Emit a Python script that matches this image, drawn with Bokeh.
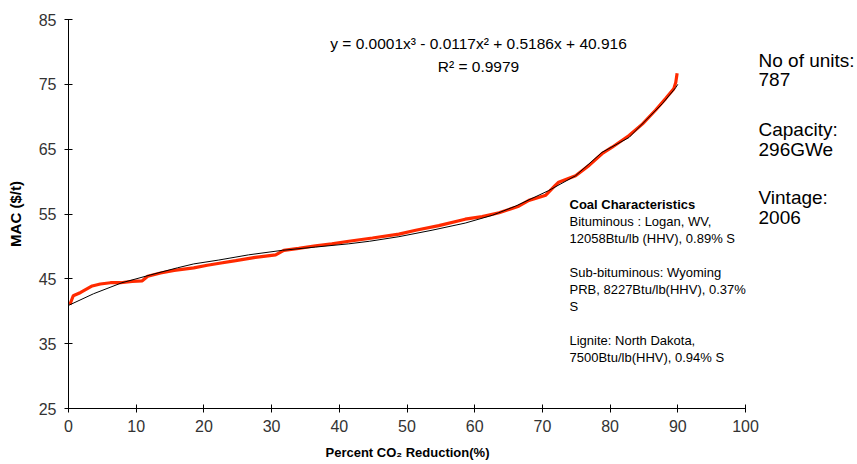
from bokeh.plotting import figure
from bokeh.models import Label, Range1d, FixedTicker, Title
from bokeh.embed import file_html
from bokeh.resources import INLINE

# Data
mac_x = [0.2, 0.7, 1.8, 3.5, 4.7, 6.2, 7.7, 9.4, 10.9, 11.7, 13.6, 15.6, 18.5, 20.5, 22.3,
         24.7, 27.6, 30.6, 31.8, 34.0, 36.5, 38.9, 41.4, 44.9, 48.8, 51.3, 54.7, 58.6,
         61.1, 63.6, 66.5, 68.0, 70.5, 71.9, 72.4, 74.9, 76.9, 78.8, 80.3, 82.8, 84.8,
         86.7, 88.2, 89.4, 89.7, 89.9]
mac_y = [41.0, 42.4, 42.9, 43.9, 44.2, 44.4, 44.4, 44.6, 44.7, 45.4, 45.9, 46.3, 46.7, 47.1, 47.4,
         47.8, 48.3, 48.7, 49.4, 49.7, 50.1, 50.4, 50.8, 51.3, 51.9, 52.5, 53.2, 54.2,
         54.6, 55.2, 56.2, 57.1, 57.9, 59.4, 59.9, 60.9, 62.5, 64.3, 65.3, 67.1, 68.9,
         71.0, 72.8, 74.3, 75.3, 76.7]

trend_x = [0.0, 3.7, 7.9, 12.1, 16.1, 18.5, 22.2, 26.6, 31.6, 36.5, 41.4, 44.5, 48.8, 53.7,
           58.6, 62.6, 66.0, 70.9, 74.9, 78.8, 82.8, 87.7, 89.7, 90.0]
trend_y = [40.9, 42.7, 44.4, 45.6, 46.7, 47.3, 47.9, 48.7, 49.4, 49.9, 50.4, 50.8, 51.5, 52.5,
           53.6, 54.8, 56.2, 58.6, 60.9, 64.5, 66.8, 72.0, 74.5, 75.0]

x_ticks = [0, 10, 20, 30, 40, 50, 60, 70, 80, 90, 100]
y_ticks = [25, 35, 45, 55, 65, 75, 85]

x_title = "Percent CO\u2082 Reduction(%)"
y_title = "MAC ($/t)"
equation_text = "y = 0.0001x\u00b3 - 0.0117x\u00b2 + 0.5186x + 40.916"
r2_text = "R\u00b2 = 0.9979"
side_lines = ["No of units:", "787", "Capacity:", "296GWe", "Vintage:", "2006"]
coal_title = "Coal Characteristics"
coal_lines = ["Bituminous :  Logan, WV,", "12058Btu/lb (HHV), 0.89% S", "",
              "Sub-bituminous: Wyoming", "PRB, 8227Btu/lb(HHV), 0.37%", "S", "",
              "Lignite: North Dakota,", "7500Btu/lb(HHV), 0.94% S"]

FONT = "Liberation Sans"
PX_PER_X = 6.77
X_END = 100 + 110 / PX_PER_X   # frame extends past 100 to hold the side notes

p = figure(frame_width=787, frame_height=389,
           x_range=Range1d(0, X_END), y_range=Range1d(25, 85),
           output_backend="svg", toolbar_location=None,
           min_border_left=68, min_border_right=2,
           min_border_top=19, min_border_bottom=50)
p.xgrid.visible = False
p.ygrid.visible = False
p.outline_line_color = None

for ax in (p.xaxis[0], p.yaxis[0]):
    ax.axis_line_color = "black"
    ax.major_tick_line_color = "black"
    ax.minor_tick_line_color = None
    ax.major_tick_in = 4
    ax.major_tick_out = 4
    ax.major_label_text_font = FONT
    ax.major_label_text_font_size = "16px"
    ax.major_label_text_color = "#333333"
    ax.axis_label_text_font = FONT
    ax.axis_label_text_font_style = "bold"
    ax.axis_label_text_color = "black"

p.xaxis.bounds = (0, 100)
p.xaxis.ticker = FixedTicker(ticks=x_ticks)
p.yaxis.ticker = FixedTicker(ticks=y_ticks)
p.xaxis.major_label_standoff = 7
p.yaxis.major_label_standoff = 8
p.yaxis.axis_label = y_title
p.yaxis.axis_label_text_font_size = "15px"
p.yaxis.axis_label_standoff = 12

# x-axis title centred under the 0..100 part of the axis
p.add_layout(Title(text=x_title, align="left", offset=257, standoff=16,
                   text_font=FONT, text_font_size="13px", text_font_style="bold",
                   text_color="black"), "below")

p.line(mac_x, mac_y, line_color="#ff2a00", line_width=3.2)
p.line(trend_x, trend_y, line_color="black", line_width=1)

# pixel helpers for placing text (reference frame: x=0 at 68px, y=25 at 408px)
def dx(px):
    return (px - 68) / PX_PER_X

def dy(py):
    return 25 + (408 - py) / 6.4833

p.add_layout(Label(x=dx(478), y=dy(43), text=equation_text, text_align="center",
                   text_baseline="middle", text_font=FONT, text_font_size="15.5px",
                   text_color="black"))
p.add_layout(Label(x=dx(478), y=dy(66), text=r2_text, text_align="center",
                   text_baseline="middle", text_font=FONT, text_font_size="15.5px",
                   text_color="black"))

side_y = [60, 79, 129, 149, 197, 217]
for t, yy in zip(side_lines, side_y):
    p.add_layout(Label(x=dx(758), y=dy(yy), text=t, text_align="left",
                       text_baseline="middle", text_font=FONT, text_font_size="19px",
                       text_color="black"))

p.add_layout(Label(x=dx(569), y=dy(204), text=coal_title, text_align="left",
                   text_baseline="middle", text_font=FONT, text_font_size="13px",
                   text_font_style="bold", text_color="black"))
for i, t in enumerate(coal_lines):
    if not t:
        continue
    p.add_layout(Label(x=dx(569), y=dy(221 + 17 * i), text=t, text_align="left",
                       text_baseline="middle", text_font=FONT, text_font_size="13px",
                       text_color="black"))

open("out.html", "w").write(file_html(p, INLINE))
